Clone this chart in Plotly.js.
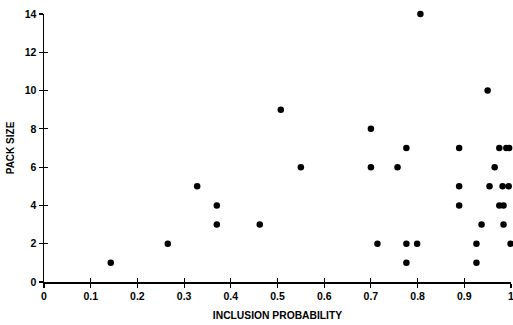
<!DOCTYPE html>
<html>
<head>
<meta charset="utf-8">
<script src="https://cdn.plot.ly/plotly-3.0.1.min.js"></script>
<style>html,body{margin:0;padding:0;background:#fff;}#chart{width:513px;height:325px;}</style>
</head>
<body>
<div id="chart"></div>
<script>
const inclusionProbability = [0.143, 0.265, 0.328, 0.370, 0.370, 0.462, 0.507, 0.550, 0.700, 0.700,
  0.714, 0.757, 0.776, 0.776, 0.776, 0.799, 0.806, 0.889, 0.889, 0.889,
  0.926, 0.926, 0.937, 0.950, 0.954, 0.965, 0.975, 0.975, 0.984, 0.982,
  0.995, 0.984, 0.990, 0.996, 0.999];
const packSize = [1, 2, 5, 4, 3, 3, 9, 6, 8, 6,
  2, 6, 7, 2, 1, 2, 14, 7, 5, 4,
  2, 1, 3, 10, 5, 6, 7, 4, 4, 5,
  5, 3, 7, 7, 2];
const xTickVals = [0, 0.1, 0.2, 0.3, 0.4, 0.5, 0.6, 0.7, 0.8, 0.9, 1];
const xTickText = ["0", "0.1", "0.2", "0.3", "0.4", "0.5", "0.6", "0.7", "0.8", "0.9", "1"];
const yTickVals = [0, 2, 4, 6, 8, 10, 12, 14];
const yTickText = ["0", "2", "4", "6", "8", "10", "12", "14"];

const fam = "Liberation Sans, Arial, sans-serif";
const bold = a => a.map(s => "<b>" + s + "</b>");
const trace = {
  x: inclusionProbability, y: packSize, type: "scatter", mode: "markers",
  marker: {color: "#000", size: 6.5}, hoverinfo: "skip", showlegend: false, cliponaxis: false
};
const layout = {
  width: 513, height: 325,
  margin: {l: 44, r: 2, t: 14, b: 43},
  paper_bgcolor: "#fff", plot_bgcolor: "#fff",
  font: {family: fam, size: 11, color: "#000"},
  xaxis: {
    range: [0, 1], tickvals: xTickVals, ticktext: bold(xTickText),
    showgrid: false, zeroline: false, showline: true, linecolor: "#000", linewidth: 1.5,
    ticks: "outside", ticklen: 4, tickwidth: 1.2, tickcolor: "#000",
    ticklabeloverflow: "allow",
    tickfont: {family: fam, size: 10.5, color: "#000"},
    title: {text: "<b>INCLUSION PROBABILITY</b>", font: {family: fam, size: 10.3, color: "#000"}, standoff: 10},
    automargin: false, fixedrange: true
  },
  xaxis2: {
    range: [0, 1], tickvals: xTickVals, overlaying: "x", anchor: "y",
    showgrid: false, zeroline: false, showline: false, showticklabels: false,
    ticks: "inside", ticklen: 4, tickwidth: 1.2, tickcolor: "#000"
  },
  yaxis: {
    range: [0, 14], tickvals: yTickVals, ticktext: bold(yTickText),
    showgrid: false, zeroline: false, showline: true, linecolor: "#000", linewidth: 1.5,
    ticks: "outside", ticklen: 4, tickwidth: 1.2, tickcolor: "#000",
    ticklabeloverflow: "allow",
    tickfont: {family: fam, size: 10.5, color: "#000"},
    title: {text: "<b>PACK SIZE</b>", font: {family: fam, size: 10, color: "#000"}, standoff: 8},
    automargin: false, fixedrange: true
  },
  yaxis2: {
    range: [0, 14], tickvals: yTickVals, overlaying: "y", anchor: "x",
    showgrid: false, zeroline: false, showline: false, showticklabels: false,
    ticks: "inside", ticklen: 4, tickwidth: 1.2, tickcolor: "#000"
  }
};
const tickTrace = {x: [null], y: [null], xaxis: "x2", yaxis: "y2", type: "scatter", showlegend: false, hoverinfo: "skip"};
Plotly.newPlot("chart", [trace, tickTrace], layout, {displayModeBar: false, staticPlot: true});
</script>
</body>
</html>
